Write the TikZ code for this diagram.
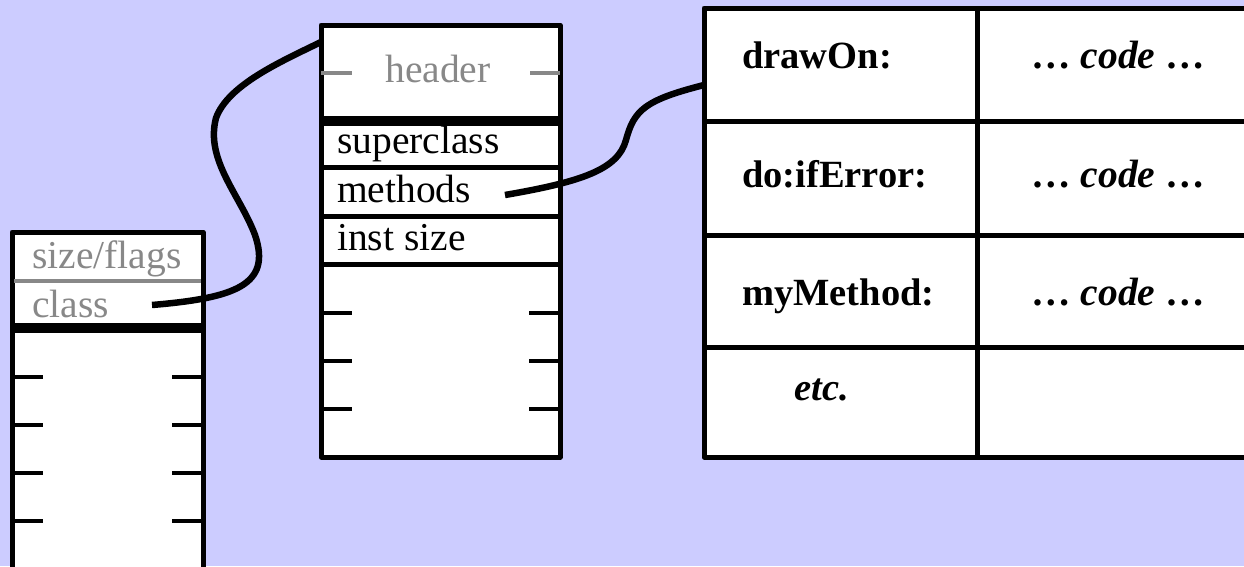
\documentclass[tikz,border=0pt]{standalone}
\usepackage{fontspec}
\setmainfont{Liberation Serif}
\definecolor{bgblue}{HTML}{CCCCFF}
\definecolor{softgray}{HTML}{888888}
\tikzset{
  frame/.style={draw=black, line width=5pt, fill=white},
  rule/.style={draw=black, line width=5pt},
  heavyrule/.style={draw=black, line width=9.5pt},
  tick/.style={draw=black, line width=4pt},
  grayrule/.style={draw=softgray, line width=4pt},
  slot/.style={inner sep=0pt, anchor=base west, font=\fontsize{39.5}{46}\selectfont},
  grayslot/.style={slot, text=softgray},
  boldslot/.style={inner sep=0pt, anchor=base west, font=\fontsize{38.5}{46}\selectfont\bfseries},
  codeslot/.style={inner sep=0pt, anchor=base, font=\fontsize{39.5}{46}\selectfont\bfseries},
  pointer/.style={draw=black, line width=6.5pt},
}
\begin{document}
\begin{tikzpicture}[x=1pt, y=-1pt]
  % background
  \fill[bgblue] (0,0) rectangle (1244,566);
  \useasboundingbox (0,0) rectangle (1244,566);

  % ---- object (left) ----
  \fill[white] (12,232) rectangle (203,566);
  \draw[rule, line cap=round, line join=round] (12,570) -- (12,232) -- (203,232) -- (203,570);
  \draw[grayrule] (14,281) -- (201,281);
  \draw[heavyrule] (14,328) -- (201,328);
  \foreach \y in {377,425,473,521} {
    \draw[tick] (12,\y) -- (43,\y);
    \draw[tick] (172,\y) -- (203,\y);
  }
  \node[grayslot] (sizeflags) at (32,268) {size/flags};
  \node[grayslot] (classslot) at (32,317) {class};

  % ---- class (middle) ----
  \draw[frame, line join=round] (321,25) rectangle (560,457);
  \draw[grayrule] (321,73) -- (352,73);
  \draw[grayrule] (530,73) -- (560,73);
  \node[grayslot, anchor=base] (header) at (438,82) {header};
  \draw[heavyrule] (323,121) -- (558,121);
  \foreach \y in {167,216,264} \draw[rule] (321,\y) -- (560,\y);
  \foreach \y in {313,361,409} {
    \draw[tick] (321,\y) -- (352,\y);
    \draw[tick] (529,\y) -- (560,\y);
  }
  \node[slot] (superclass) at (337,153) {superclass};
  \node[slot] (methods) at (337,202) {methods};
  \node[slot] (instsize) at (337,250) {inst size};

  % ---- method dictionary (right) ----
  \fill[white] (704,8) rectangle (1244,457);
  \draw[rule, line join=round] (1248,8) -- (704,8) -- (704,457) -- (1248,457);
  \draw[rule] (977,8) -- (977,457);
  \foreach \y in {121,235,347} \draw[rule] (704,\y) -- (1248,\y);
  \node[boldslot] (drawon) at (742,68) {drawOn:};
  \node[boldslot] (doiferror) at (742,187) {do:ifError:};
  \node[boldslot] (mymethod) at (742,305) {myMethod:};
  \node[boldslot, font=\fontsize{38.5}{46}\selectfont\bfseries\itshape] (etc) at (794,400) {etc.};
  \node[codeslot] (code1) at (1118,68) {… \textit{code} …};
  \node[codeslot] (code2) at (1118,187) {… \textit{code} …};
  \node[codeslot] (code3) at (1118,305) {… \textit{code} …};

  % ---- pointers ----
  \coordinate (classptr) at (152,305);
  \coordinate (hdrleft) at (321,42);
  \coordinate (methptr) at (505,195);
  \coordinate (tblleft) at (704,85);
  \draw[pointer] (classptr) .. controls (235,298) and (272,285) .. (255,235)
    .. controls (240,195) and (205,160) .. (216,118)
    .. controls (228,85) and (280,62) .. (hdrleft);
  \draw[pointer] (methptr) .. controls (580,182) and (618,170) .. (626,140)
    .. controls (634,110) and (645,100) .. (tblleft);
\end{tikzpicture}
\end{document}
